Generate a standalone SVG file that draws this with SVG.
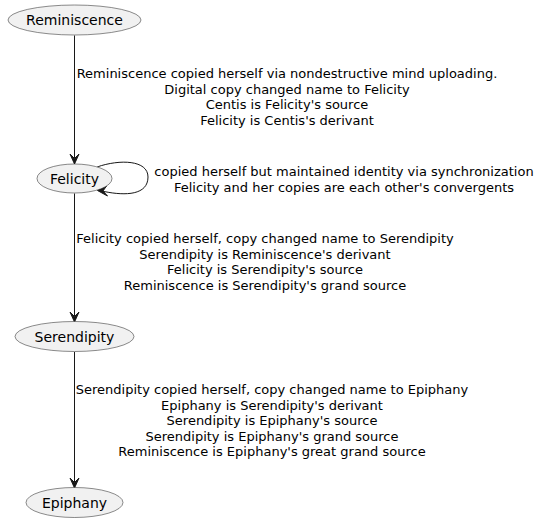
<svg xmlns="http://www.w3.org/2000/svg" width="543" height="521" viewBox="0 0 543 521">
<style>
.node ellipse{fill:#F1F1F1;stroke:#181818;stroke-width:0.5}
.node text{font-family:"DejaVu Sans",sans-serif;font-size:14px;fill:#000;text-anchor:middle}
.edge{fill:none;stroke:#181818;stroke-width:1}
.head{fill:#181818;stroke:#181818;stroke-width:1}
.lbl{font-family:"DejaVu Sans",sans-serif;font-size:13px;fill:#000;text-anchor:middle}
</style>
<rect width="543" height="521" fill="#FFFFFF"/>
<g id="connectors">
<path class="edge" d="M74.5,35.5 L74.5,158"/>
<polygon class="head" points="74.5,164 70,154 74.5,158.5 79,154"/>
<path class="edge" d="M74.5,193.5 L74.5,316"/>
<polygon class="head" points="74.5,322 70,312 74.5,316.5 79,312"/>
<path class="edge" d="M74.5,352 L74.5,482"/>
<polygon class="head" points="74.5,488 70,478 74.5,482.5 79,478"/>
<path class="edge" d="M97,167 C120,159 148,160 148,177 C148,195 126,196 104,191.5"/>
<polygon class="head" points="97.5,190.5 106.5,186 103,191 107.5,196"/>
<text class="lbl"><tspan x="287" y="78">Reminiscence copied herself via nondestructive mind uploading.</tspan><tspan x="287" y="93.5">Digital copy changed name to Felicity</tspan><tspan x="287" y="109">Centis is Felicity's source</tspan><tspan x="287" y="124.5">Felicity is Centis's derivant</tspan></text>
<text class="lbl"><tspan x="344" y="176">copied herself but maintained identity via synchronization</tspan><tspan x="344" y="191.5">Felicity and her copies are each other's convergents</tspan></text>
<text class="lbl"><tspan x="265" y="243">Felicity copied herself, copy changed name to Serendipity</tspan><tspan x="265" y="258.5">Serendipity is Reminiscence's derivant</tspan><tspan x="265" y="274">Felicity is Serendipity's source</tspan><tspan x="265" y="289.5">Reminiscence is Serendipity's grand source</tspan></text>
<text class="lbl"><tspan x="272" y="394">Serendipity copied herself, copy changed name to Epiphany</tspan><tspan x="272" y="409.5">Epiphany is Serendipity's derivant</tspan><tspan x="272" y="425">Serendipity is Epiphany's source</tspan><tspan x="272" y="440.5">Serendipity is Epiphany's grand source</tspan><tspan x="272" y="456">Reminiscence is Epiphany's great grand source</tspan></text>
</g>
<g id="node-reminiscence" class="node"><ellipse cx="74.5" cy="20" rx="66.5" ry="15"/><text x="74.5" y="25">Reminiscence</text></g>
<g id="node-felicity" class="node"><ellipse cx="74.5" cy="178.5" rx="37.5" ry="14.5"/><text x="74.5" y="183.5">Felicity</text></g>
<g id="node-serendipity" class="node"><ellipse cx="74.5" cy="336.5" rx="59.5" ry="15"/><text x="74.5" y="341.5">Serendipity</text></g>
<g id="node-epiphany" class="node"><ellipse cx="74.5" cy="502.5" rx="48.5" ry="15"/><text x="74.5" y="507.5">Epiphany</text></g>
</svg>
